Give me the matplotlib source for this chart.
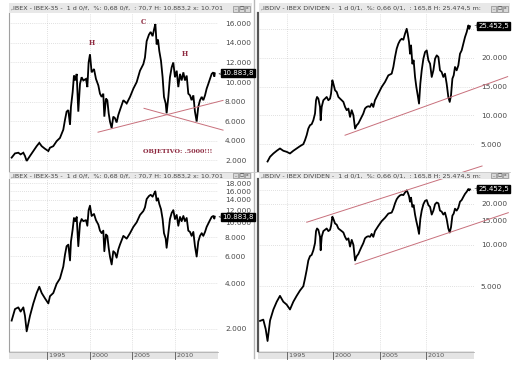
import matplotlib
matplotlib.use("Agg")
import matplotlib.pyplot as plt
from matplotlib.patches import Rectangle
from matplotlib.lines import Line2D
from matplotlib.ticker import FixedLocator, FuncFormatter, NullLocator

W, H = 514, 371

# -------------------------------------------------------
# DATA
# -------------------------------------------------------
ibex_years = [
    1990.86, 1991.25, 1991.64, 1991.91, 1992.23, 1992.42, 1992.62, 1993.01, 1993.40, 1993.79,
    1994.10, 1994.38, 1994.77, 1995.16, 1995.35, 1995.74, 1996.13, 1996.52, 1996.91, 1997.11,
    1997.30, 1997.50, 1997.70, 1997.81, 1998.01, 1998.16, 1998.32, 1998.48, 1998.67, 1998.87,
    1999.06, 1999.26, 1999.57, 1999.73, 1999.88, 2000.04, 2000.23, 2000.51, 2000.74, 2001.02,
    2001.21, 2001.41, 2001.60, 2001.72, 2001.91, 2002.07, 2002.23, 2002.38, 2002.58, 2002.77,
    2002.97, 2003.16, 2003.36, 2003.55, 2003.95, 2004.34, 2004.73, 2005.12, 2005.51, 2005.90,
    2006.29, 2006.48, 2006.68, 2006.95, 2007.15, 2007.38, 2007.54, 2007.70, 2007.85, 2008.01,
    2008.16, 2008.36, 2008.55, 2008.71, 2008.91, 2009.02, 2009.22, 2009.41, 2009.61, 2009.80,
    2010.00, 2010.20, 2010.39, 2010.59, 2010.78, 2010.98, 2011.17, 2011.37, 2011.56, 2011.76,
    2011.95, 2012.15, 2012.34, 2012.54, 2012.73, 2012.93, 2013.13, 2013.32, 2013.52, 2013.71,
    2013.91, 2014.10, 2014.30, 2014.49, 2014.61, 2014.66,
]
ibex_values = [
    2270, 2700, 2770, 2600, 2770, 2440, 1930, 2440, 2940, 3440,
    3780, 3440, 3170, 2940, 3280, 3440, 3950, 4280, 5120, 6130,
    6970, 7130, 5620, 7470, 8980, 10660, 10160, 10830, 6970, 9820,
    10490, 10160, 10320, 9480, 12000, 12840, 10990, 11330, 10320, 9650,
    8810, 8480, 8810, 6460, 8310, 8140, 6800, 5960, 5290, 6460,
    6300, 5860, 6630, 7130, 8140, 7810, 8480, 9320, 9990, 11160,
    11830, 12500, 14180, 14850, 15120, 14690, 15360, 15930, 13850, 14350,
    13180, 12170, 10490, 8480, 7810, 6800, 8480, 10490, 11500, 12000,
    10490, 11160, 9480, 10830, 10160, 10990, 10160, 10660, 8810, 8640,
    8140, 8640, 6970, 5960, 7470, 8140, 8480, 8140, 8640, 9320,
    9820, 10320, 10830, 10990, 10560, 10884,
]

div_years = [
    1992.09, 1992.44, 1992.70, 1992.90, 1993.17, 1993.53, 1993.89, 1994.24, 1994.60, 1994.96,
    1995.32, 1995.68, 1996.04, 1996.40, 1996.76, 1996.94, 1997.12, 1997.30, 1997.48, 1997.66,
    1997.84, 1998.02, 1998.13, 1998.24, 1998.38, 1998.56, 1998.63, 1998.74, 1998.92, 1999.10,
    1999.28, 1999.46, 1999.64, 1999.75, 1999.89, 2000.00, 2000.18, 2000.36, 2000.54, 2000.72,
    2000.90, 2001.08, 2001.26, 2001.44, 2001.62, 2001.80, 2001.98, 2002.16, 2002.34, 2002.52,
    2002.69, 2002.87, 2003.05, 2003.23, 2003.41, 2003.59, 2003.77, 2003.95, 2004.13, 2004.31,
    2004.49, 2004.85, 2005.21, 2005.57, 2005.93, 2006.29, 2006.47, 2006.65, 2006.83, 2007.01,
    2007.19, 2007.37, 2007.55, 2007.73, 2007.91, 2008.02, 2008.16, 2008.27, 2008.38, 2008.52,
    2008.66, 2008.81, 2008.95, 2009.10, 2009.24, 2009.38, 2009.53, 2009.71, 2009.89, 2010.07,
    2010.25, 2010.43, 2010.61, 2010.79, 2010.97, 2011.15, 2011.33, 2011.50, 2011.68, 2011.86,
    2012.04, 2012.22, 2012.40, 2012.55, 2012.69, 2012.84, 2012.98, 2013.12, 2013.30, 2013.48,
    2013.66, 2013.84, 2014.02, 2014.20, 2014.38, 2014.56, 2014.66, 2014.74,
]
div_values = [
    2790, 2850, 2430, 1990, 2810, 3380, 3850, 4250, 3850, 3670,
    3380, 3850, 4250, 4650, 5000, 5690, 6560, 7710, 8290, 8460,
    9150, 10310, 12620, 13190, 12900, 11460, 9150, 11460, 12620, 12900,
    13190, 12620, 12900, 13770, 16080, 15500, 14350, 14060, 13190, 12900,
    12620, 12330, 11460, 10890, 11170, 9730, 10890, 10020, 7710, 8290,
    8580, 9150, 9730, 10310, 11170, 11460, 11580, 11460, 12040, 11460,
    12620, 13770, 14920, 15790, 16940, 17230, 18390, 20120, 21560, 22430,
    23000, 23290, 23120, 24160, 25020, 24160, 22710, 20690, 22140, 18960,
    19540, 16660, 14920, 13480, 12040, 15500, 17810, 19830, 20980, 21270,
    19540, 18960, 16660, 17810, 19830, 20410, 20120, 17810, 17520, 16660,
    17230, 15500, 13190, 12330, 13480, 16370, 16940, 18390, 17810, 18670,
    20690, 21270, 22430, 23580, 24440, 25600, 25020, 25452,
]

year_ticks = [1995, 2000, 2005, 2010]
ibex_ticks_lin = [2000, 4000, 6000, 8000, 10000, 12000, 14000, 16000]
ibex_ticks_log = [2000, 4000, 6000, 8000, 10000, 12000, 14000, 16000, 18000]
div_ticks_lin = [5000, 10000, 15000, 20000, 25000]
div_ticks_log = [5000, 10000, 15000, 20000, 25000]
hidden_labels = [25000]   # sits under the last-value box

title_ibex = ",IBEX - IBEX-35 -  1 d 0/f,  %: 0,68 0/f,  : 70,7 H: 10.883,2 x: 10.701"
title_div = ",IBDIV - IBEX DIVIDEN -  1 d 0/1,  %: 0,66 0/1,  : 165,8 H: 25.474,5 m:"

# head & shoulders labels on the IBEX chart
hcs_labels = ["H", "C", "H"]
hcs_years = [2000.3, 2006.25, 2011.2]
hcs_values = [14000, 16150, 12900]
target_text = "OBJETIVO: .5000!!!"

# hand drawn trend lines (start year, start value, end year, end value)
ibex_neckline = [2000.98, 4870, 2015.63, 8120]
ibex_downline = [2006.37, 7310, 2015.63, 5080]
div_support_lin = [2001.26, 6550, 2018.8, 16720]
div_channel_top = [1997.13, 14650, 2016.04, 37700]
div_channel_bot = [2002.34, 7230, 2018.87, 17200]

LINE_RED = "#c8707c"
TEXT_RED = "#8e2a40"
GRID = "#c4c4c4"


def px_rect(x0, y0, x1, y1):
    return [x0 / W, 1 - y1 / H, (x1 - x0) / W, (y1 - y0) / H]


def fmt(v, pos=None):
    if v in hidden_labels:
        return ""
    return f"{v:,.0f}".replace(",", ".")


def setup(ax, xlim, ylim, yticks, log=False):
    if log:
        ax.set_yscale("log")
    ax.set_xlim(xlim)
    ax.set_ylim(ylim)
    ax.yaxis.set_major_locator(FixedLocator(yticks))
    ax.yaxis.set_minor_locator(NullLocator())
    ax.yaxis.set_major_formatter(FuncFormatter(fmt))
    ax.yaxis.tick_right()
    ax.tick_params(axis="y", length=0, pad=5, labelsize=5.3, labelcolor="#4a4a4a")
    ax.set_xticks(year_ticks)
    ax.tick_params(axis="x", length=0, labelbottom=False)
    ax.grid(True, ls=(0, (1, 2)), color=GRID, lw=0.5)
    for s in ax.spines.values():
        s.set_visible(False)


def last_box(ax, value, text, marker):
    ax.text(0.998, value, marker, transform=ax.get_yaxis_transform(), fontsize=5,
            va="center", ha="left", color="#333333", clip_on=False)
    ax.text(1.02, value, text, transform=ax.get_yaxis_transform(), fontsize=5.0,
            va="center", ha="left", color="white", clip_on=False, zorder=5,
            bbox=dict(boxstyle="square,pad=0.15", facecolor="black", edgecolor="black"))


def time_strip(ax):
    ax.add_patch(Rectangle((0, -0.045), 1.0, 0.045, transform=ax.transAxes,
                           facecolor="#e4e4e4", edgecolor="none", clip_on=False))
    ax.add_line(Line2D([0, 1.0], [-0.003, -0.003], transform=ax.transAxes,
                       color="#b0b0b0", lw=0.6, clip_on=False))
    for yr in year_ticks:
        ax.add_line(Line2D([yr, yr], [-0.045, -0.005], transform=ax.get_xaxis_transform(),
                           color="#555555", lw=0.6, clip_on=False))
        ax.text(yr, -0.024, " " + str(yr), transform=ax.get_xaxis_transform(),
                fontsize=4.6, va="center", ha="left", color="#555555", clip_on=False)


def title_bar(x0, x1, y0, y1, text):
    fig.add_artist(Rectangle((x0 / W, 1 - y1 / H), (x1 - x0) / W, (y1 - y0) / H,
                             transform=fig.transFigure, facecolor="#e8e8e8", edgecolor="none"))
    fig.text((x0 + 2) / W, 1 - (y0 + y1) / 2 / H, text, fontsize=4.6, va="center",
             ha="left", color="#444444")
    # little window buttons
    for i, g in enumerate(["_", "\u25a1", "x"]):
        bx = x1 - 19 + i * 6
        fig.add_artist(Rectangle((bx / W, 1 - (y1 - 1.5) / H), 5 / W, 5 / H,
                                 transform=fig.transFigure, facecolor="#d8d8d8",
                                 edgecolor="#777777", lw=0.4))
        fig.text((bx + 2.5) / W, 1 - (y0 + y1) / 2 / H, g, fontsize=3.2, va="center",
                 ha="center", color="#333333")


fig = plt.figure(figsize=(W / 100, H / 100), dpi=100)
fig.patch.set_facecolor("white")

IBEX_XLIM = (1990.55, 2015.04)
DIV_XLIM = (1991.87, 2015.17)

# -- top left: IBEX-35 linear with head & shoulders --
ax_tl = fig.add_axes(px_rect(9, 13, 218, 171))
setup(ax_tl, IBEX_XLIM, (900, 17060), ibex_ticks_lin)
ax_tl.plot(ibex_years, ibex_values, color="black", lw=1.3, solid_joinstyle="miter")
for lab, yr, v in zip(hcs_labels, hcs_years, hcs_values):
    ax_tl.text(yr, v, lab, fontsize=4.8, color=TEXT_RED, ha="center", va="center",
               family="DejaVu Serif", fontweight="bold")
ax_tl.text(2006.25, 2940, target_text, fontsize=4.6, color=TEXT_RED, ha="left",
           va="center", family="DejaVu Serif", fontweight="bold")
for ln in (ibex_neckline, ibex_downline):
    ax_tl.plot([ln[0], ln[2]], [ln[1], ln[3]], color=LINE_RED, lw=0.7, clip_on=False)
last_box(ax_tl, ibex_values[-1], "10.883,8", "<")

# -- top right: IBEX dividend linear --
ax_tr = fig.add_axes(px_rect(258, 13, 474, 171))
setup(ax_tr, DIV_XLIM, (340, 27760), div_ticks_lin)
start = div_years.index(1992.90)
ax_tr.plot(div_years[start:], div_values[start:], color="black", lw=1.3)
ax_tr.plot([div_support_lin[0], div_support_lin[2]], [div_support_lin[1], div_support_lin[3]],
           color=LINE_RED, lw=0.7, clip_on=False)
last_box(ax_tr, div_values[-1], "25.452,5", "+")

# -- bottom left: IBEX-35 log --
ax_bl = fig.add_axes(px_rect(9, 179, 218, 351))
setup(ax_bl, IBEX_XLIM, (1435, 19190), ibex_ticks_log, log=True)
ax_bl.plot(ibex_years, ibex_values, color="black", lw=1.3)
last_box(ax_bl, ibex_values[-1], "10.883,8", "<")
time_strip(ax_bl)

# -- bottom right: IBEX dividend log with channel --
ax_br = fig.add_axes(px_rect(258, 179, 474, 351))
setup(ax_br, DIV_XLIM, (1682, 30300), div_ticks_log, log=True)
ax_br.plot(div_years, div_values, color="black", lw=1.3)
for ln in (div_channel_top, div_channel_bot):
    ax_br.plot([ln[0], ln[2]], [ln[1], ln[3]], color=LINE_RED, lw=0.7, clip_on=False)
last_box(ax_br, div_values[-1], "25.452,5", "+")
time_strip(ax_br)

# -- window chrome --
title_bar(9, 252, 3, 13, title_ibex)
title_bar(259, 510, 3, 13, title_div)
title_bar(9, 252, 172, 179, title_ibex)
title_bar(259, 510, 172, 179, title_div)

for ax, edge_col, lw in ((ax_tl, "#a0a0a0", 0.8), (ax_bl, "#a0a0a0", 0.8),
                         (ax_tr, "#555555", 1.6), (ax_br, "#555555", 1.6)):
    ax.spines["left"].set_visible(True)
    ax.spines["left"].set_color(edge_col)
    ax.spines["left"].set_linewidth(lw)

fig.add_artist(Line2D([253.5 / W, 253.5 / W], [1 - 358 / H, 1], transform=fig.transFigure,
                      color="#b8b8b8", lw=1.0, zorder=0))
fig.add_artist(Line2D([9 / W, 510 / W], [1 - 171.5 / H, 1 - 171.5 / H],
                      transform=fig.transFigure, color="#c8c8c8", lw=0.6))

fig.savefig("out.png", dpi=100)
